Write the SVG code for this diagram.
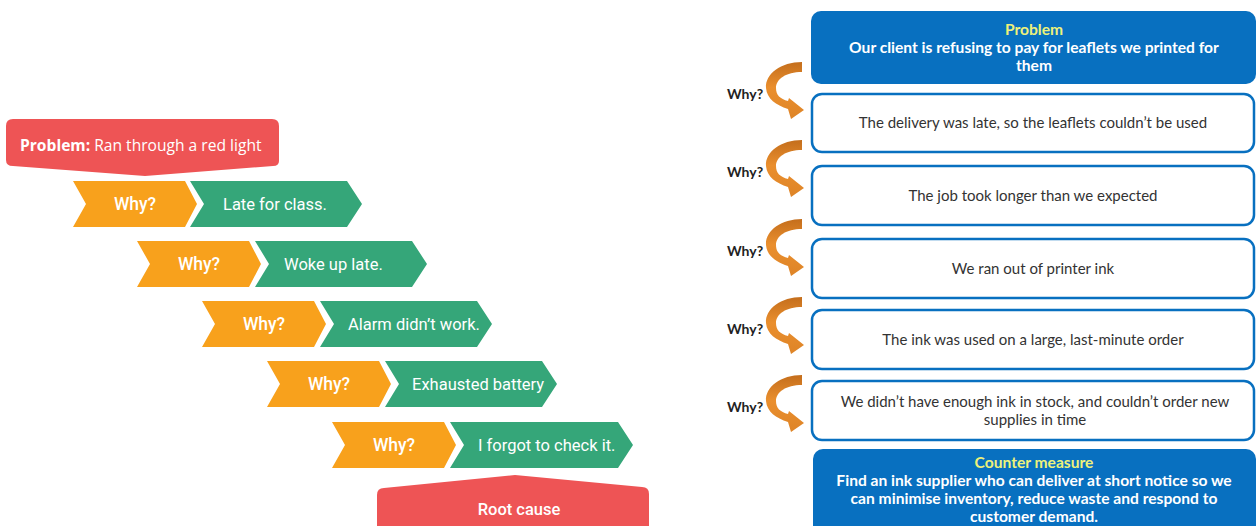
<svg xmlns="http://www.w3.org/2000/svg" width="1256" height="526" viewBox="0 0 1256 526">
  <defs>
    <style>
      .red { fill: #EE5455; }
      .orange { fill: #F8A11C; }
      .green { fill: #35A679; }
      .chev { font-family: Roboto, "Liberation Sans", sans-serif; font-size: 16.5px; fill: #ffffff; }
      .why-l { text-anchor: middle; font-size: 17.5px; font-weight: 500; }
      .banner { font-family: "Open Sans", "Liberation Sans", sans-serif; font-size: 15.6px; fill: #ffffff; }
      .bluebox { fill: #0870C0; }
      .wbox { fill: #ffffff; stroke: #0870C0; stroke-width: 2.5; }
      .btxt { font-family: Lato, "Liberation Sans", sans-serif; font-size: 15px; fill: #333333; text-anchor: middle; }
      .htxt { font-family: Lato, "Liberation Sans", sans-serif; font-size: 15.6px; font-weight: bold; fill: #ffffff; text-anchor: middle; }
      .ytxt { fill: #EEF27A; }
      .why-r { font-family: Lato, "Liberation Sans", sans-serif; font-size: 14px; font-weight: bold; fill: #222222; }
    </style>
    <linearGradient id="arrowFill" x1="0" y1="0" x2="0" y2="1">
      <stop offset="0" stop-color="#C46E1C"/>
      <stop offset="0.45" stop-color="#EA8F2E"/>
      <stop offset="1" stop-color="#DE8427"/>
    </linearGradient>
    <!-- curved "why" arrow: C-shaped band ending in a head pointing right -->
    <path id="curl" fill="url(#arrowFill)"
          d="M802,62 C781,62 765,74 766,88 C767,99 776,105 788,109 L791,119 L804,110 L789,98 L788,101 C780,99 776,95 776,88 C776,79 786,72 802,72 Z"/>
  </defs>

  <!-- left: five whys chevron ladder -->
  <g id="problem-banner">
    <path class="red" d="M6,126 Q6,119 13,119 L272,119 Q279,119 279,126 L279,161 Q279,166 273,166 L145,176 L13,166 Q6,166 6,160 Z"/>
    <text class="banner" x="20" y="151"><tspan font-weight="bold">Problem:</tspan> Ran through a red light</text>
  </g>

  <g id="row1" transform="translate(73,181)">
    <polygon class="orange" points="0,0 112,0 124,23 112,46 0,46 13,23"/>
    <polygon class="green" points="117,0 274,0 289,23 274,46 117,46 131,23"/>
    <text class="chev why-l" x="62" y="29">Why?</text>
    <text class="chev" x="150" y="29">Late for class.</text>
  </g>
  <g id="row2" transform="translate(137,241)">
    <polygon class="orange" points="0,0 112,0 124,23 112,46 0,46 13,23"/>
    <polygon class="green" points="118,0 275,0 290,23 275,46 118,46 132,23"/>
    <text class="chev why-l" x="62" y="29">Why?</text>
    <text class="chev" x="147" y="29">Woke up late.</text>
  </g>
  <g id="row3" transform="translate(202,301)">
    <polygon class="orange" points="0,0 112,0 124,23 112,46 0,46 13,23"/>
    <polygon class="green" points="118,0 275,0 290,23 275,46 118,46 132,23"/>
    <text class="chev why-l" x="62" y="29">Why?</text>
    <text class="chev" x="146" y="29">Alarm didn’t work.</text>
  </g>
  <g id="row4" transform="translate(267,361)">
    <polygon class="orange" points="0,0 112,0 124,23 112,46 0,46 13,23"/>
    <polygon class="green" points="118,0 275,0 290,23 275,46 118,46 132,23"/>
    <text class="chev why-l" x="62" y="29">Why?</text>
    <text class="chev" x="145" y="29">Exhausted battery</text>
  </g>
  <g id="row5" transform="translate(332,422)">
    <polygon class="orange" points="0,0 112,0 124,23 112,46 0,46 13,23"/>
    <polygon class="green" points="118,0 286,0 301,23 286,46 118,46 132,23"/>
    <text class="chev why-l" x="62" y="29">Why?</text>
    <text class="chev" x="146" y="29">I forgot to check it.</text>
  </g>

  <g id="root-cause">
    <path class="red" d="M377,495 Q377,488 384,488 L515,475 L642,487 Q649,487 649,494 L649,526 L377,526 Z"/>
    <text class="chev" x="519" y="515" text-anchor="middle" font-weight="500" font-size="17">Root cause</text>
  </g>

  <!-- right: problem / why chain / counter measure -->
  <g id="problem-box">
    <rect class="bluebox" x="811" y="11" width="445" height="73" rx="10"/>
    <text class="htxt ytxt" x="1034" y="35">Problem</text>
    <text class="htxt" x="1034" y="53">Our client is refusing to pay for leaflets we printed for</text>
    <text class="htxt" x="1034" y="71">them</text>
  </g>

  <g id="why1">
    <rect class="wbox" x="812" y="94" width="442" height="58" rx="10"/>
    <text class="btxt" x="1033" y="128">The delivery was late, so the leaflets couldn’t be used</text>
  </g>
  <g id="why2">
    <rect class="wbox" x="812" y="166" width="442" height="59" rx="10"/>
    <text class="btxt" x="1033" y="201">The job took longer than we expected</text>
  </g>
  <g id="why3">
    <rect class="wbox" x="812" y="239" width="442" height="59" rx="10"/>
    <text class="btxt" x="1033" y="274">We ran out of printer ink</text>
  </g>
  <g id="why4">
    <rect class="wbox" x="812" y="310" width="442" height="59" rx="10"/>
    <text class="btxt" x="1033" y="345">The ink was used on a large, last-minute order</text>
  </g>
  <g id="why5">
    <rect class="wbox" x="812" y="381" width="442" height="59" rx="10"/>
    <text class="btxt" x="1035" y="407">We didn’t have enough ink in stock, and couldn’t order new</text>
    <text class="btxt" x="1035" y="425">supplies in time</text>
  </g>

  <g id="counter-measure">
    <rect class="bluebox" x="813" y="449" width="443" height="90" rx="10"/>
    <text class="htxt ytxt" x="1034" y="468">Counter measure</text>
    <text class="htxt" x="1034" y="486">Find an ink supplier who can deliver at short notice so we</text>
    <text class="htxt" x="1034" y="504">can minimise inventory, reduce waste and respond to</text>
    <text class="htxt" x="1034" y="522">customer demand.</text>
  </g>

  <g id="connectors">
    <use href="#curl"/>
    <use href="#curl" transform="translate(0,78)"/>
    <use href="#curl" transform="translate(0,157)"/>
    <use href="#curl" transform="translate(0,235)"/>
    <use href="#curl" transform="translate(0,313)"/>
    <text class="why-r" x="727" y="99">Why?</text>
    <text class="why-r" x="727" y="177">Why?</text>
    <text class="why-r" x="727" y="256">Why?</text>
    <text class="why-r" x="727" y="334">Why?</text>
    <text class="why-r" x="727" y="412">Why?</text>
  </g>
</svg>
